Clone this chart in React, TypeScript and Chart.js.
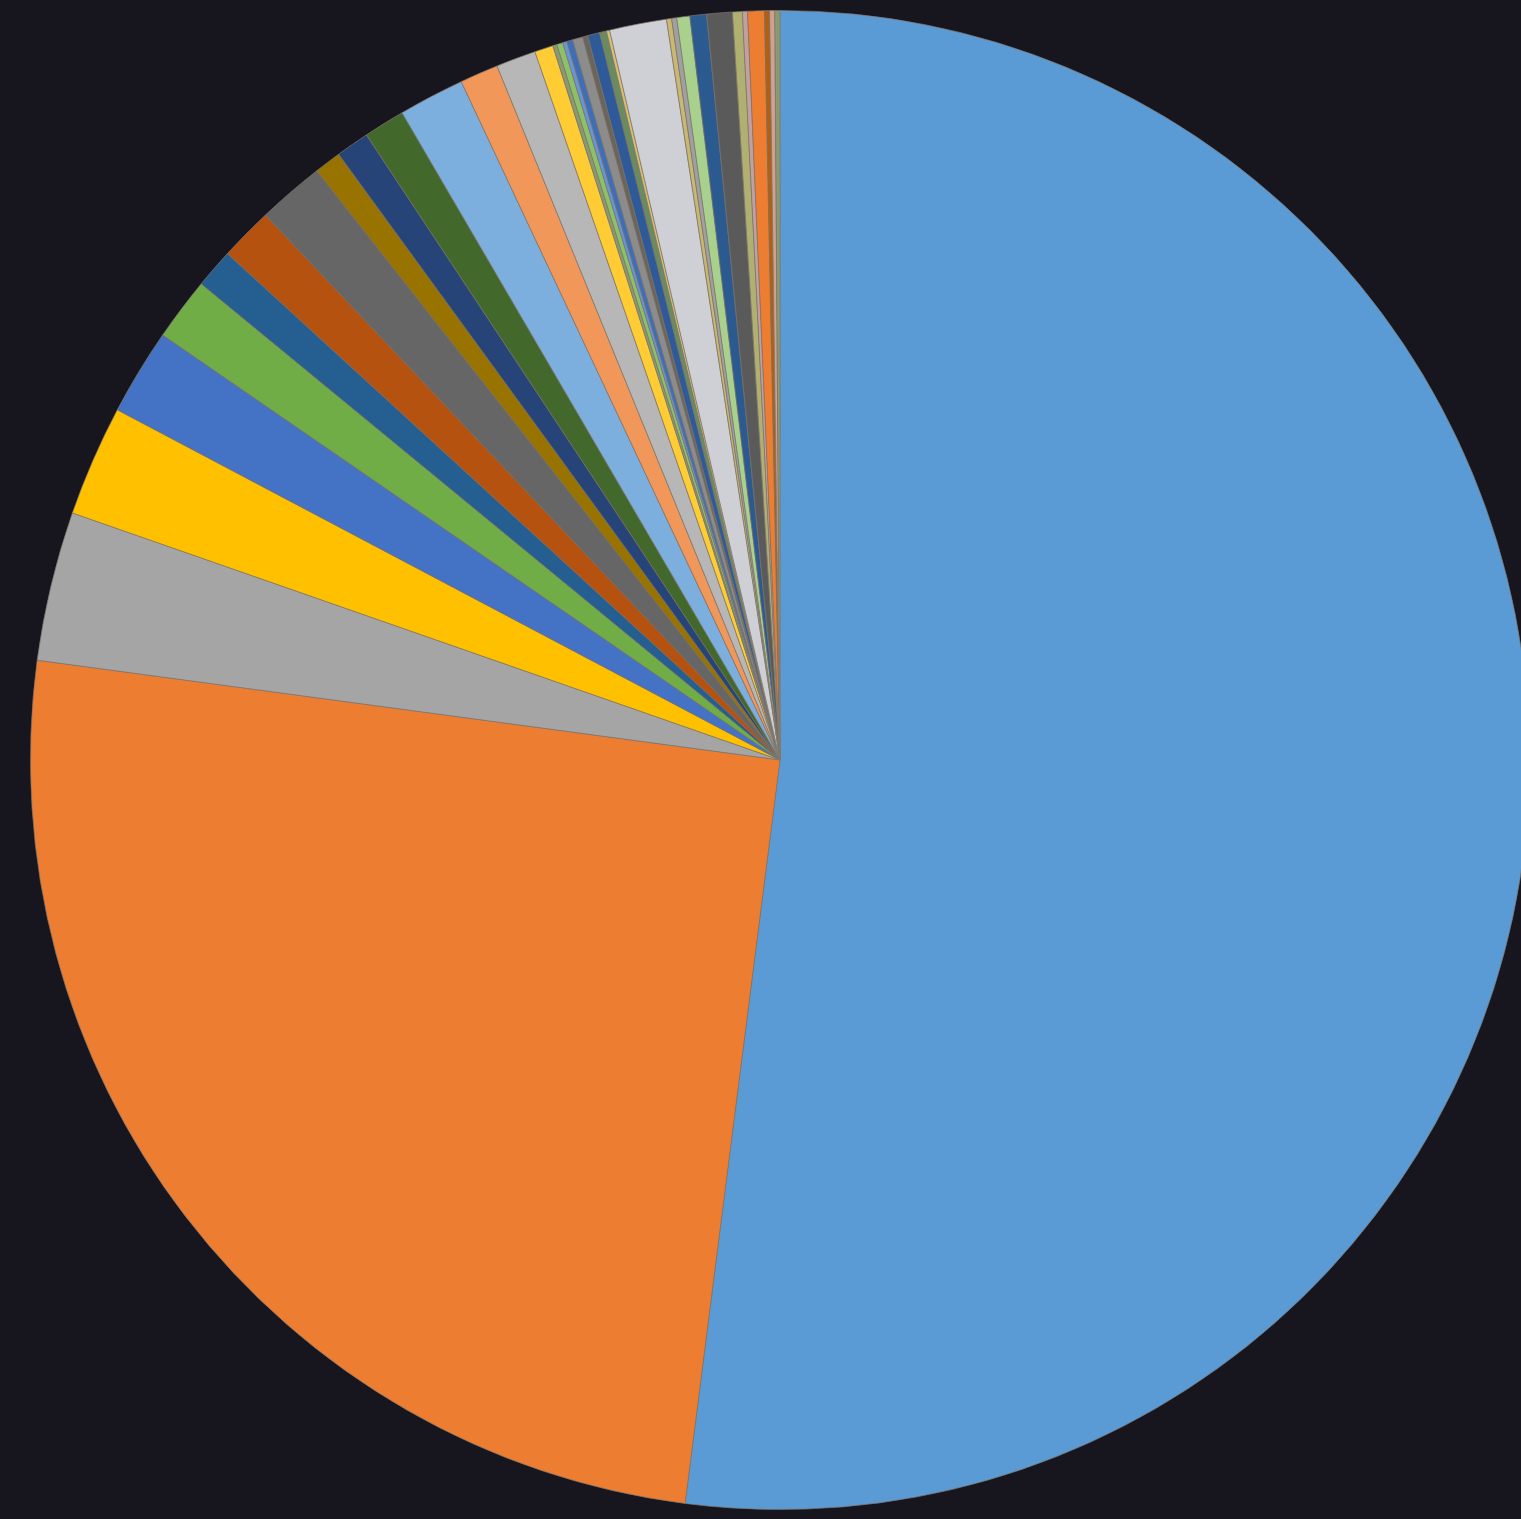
import React, { useEffect, useRef } from "react";
import { Chart, registerables } from "chart.js";

Chart.register(...registerables);

const categories: string[] = [
  "S1", "S2", "S3", "S4", "S5", "S6", "S7", "S8", "S9", "S10",
  "S11", "S12", "S13", "S14", "S15", "S16", "S17", "S18", "S19", "S20",
  "S21", "S22", "S23", "S24", "S25", "S26", "S27", "S28", "S29", "S30",
  "S31", "S32", "S33", "S34", "S35", "S36", "S37",
];

const shares: number[] = [
  52.01, 25.10, 3.22, 2.39, 1.86, 1.36, 0.85, 1.15, 1.44, 0.58,
  0.72, 0.89, 1.42, 0.83, 0.86, 0.40, 0.09, 0.13, 0.09, 0.13,
  0.22, 0.11, 0.26, 0.15, 0.07, 1.23, 0.11, 0.11, 0.28, 0.36,
  0.55, 0.21, 0.11, 0.36, 0.11, 0.11, 0.11,
];

const sliceColors: string[] = [
  "#5B9BD5", "#ED7D31", "#A5A5A5", "#FFC000", "#4472C4", "#70AD47",
  "#255E91", "#B5520F", "#666666", "#997300", "#264478", "#43682B",
  "#7CAFDD", "#F1975A", "#B7B7B7", "#FFCD33", "#8A9A70", "#8CC168",
  "#6A94D4", "#3D6FB8", "#8C8C8C", "#6B6458", "#2E5A9A", "#6A8A60",
  "#D8C070", "#CFCFD6", "#C8B870", "#A0A0A0", "#A9D18E", "#2A5A90",
  "#5A5A5A", "#B0B070", "#C0A0A0", "#ED7D31", "#B06010", "#D0A090",
  "#8A9A70",
];

export default function App() {
  const ref = useRef<HTMLCanvasElement | null>(null);

  useEffect(() => {
    if (!ref.current) return;
    const chart = new Chart(ref.current, {
      type: "pie",
      data: {
        labels: categories,
        datasets: [
          {
            data: shares,
            backgroundColor: sliceColors,
            borderColor: "rgba(130,120,110,0.7)",
            borderWidth: 1,
          },
        ],
      },
      options: {
        responsive: false,
        animation: false,
        layout: { padding: 0 },
        plugins: {
          legend: { display: false },
          tooltip: { enabled: false },
        },
      },
    });
    return () => chart.destroy();
  }, []);

  return (
    <div
      style={{
        position: "fixed",
        left: 0,
        top: 0,
        width: 1521,
        height: 1519,
        background: "#17161f",
        overflow: "hidden",
      }}
    >
      <canvas
        ref={ref}
        width={1500}
        height={1500}
        style={{ position: "absolute", left: 30, top: 10, width: 1500, height: 1500 }}
      />
    </div>
  );
}
